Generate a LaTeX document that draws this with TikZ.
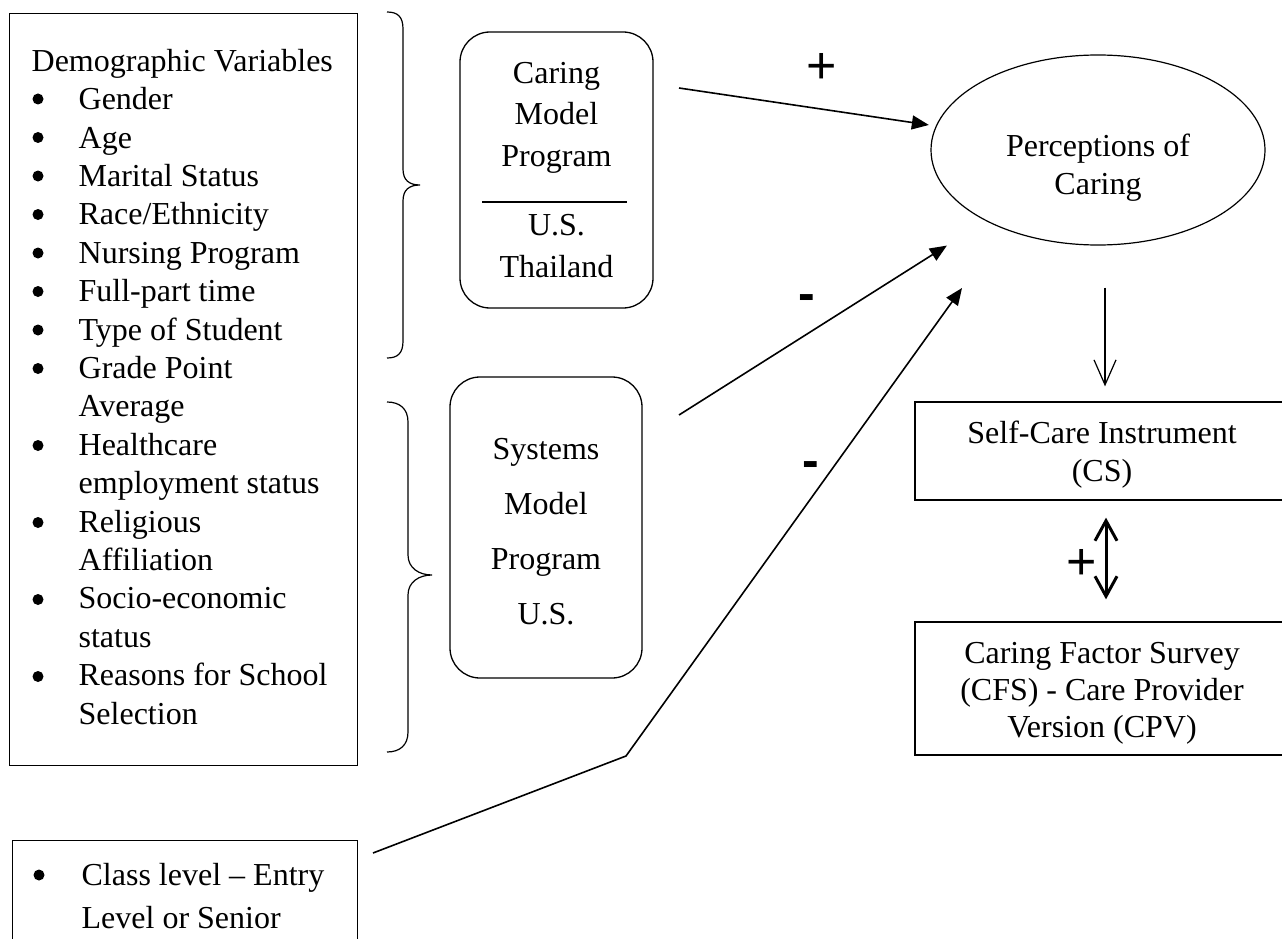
\documentclass[tikz,border=0pt]{standalone}
\usepackage{fontspec}
\setmainfont{Liberation Serif}
\newfontfamily\signfont{Liberation Sans}
\usetikzlibrary{arrows.meta,shapes.geometric}

\newcommand{\ind}[1]{\hspace*{47pt}#1}
\newcommand{\topstrut}{\rule{0pt}{30pt}}
\newcommand{\botstrut}{\rule[-6pt]{0pt}{1pt}}

\begin{document}
\begin{tikzpicture}[x=1pt,y=-1pt,
  box/.style={draw, line width=1.3pt},
  prog/.style={draw, line width=1.3pt, rounded corners=30pt, align=center},
  pointer/.style={line width=1.6pt, -{Triangle[length=17pt,width=14pt]}},
  thinarrow/.style={line width=1.2pt, -{Straight Barb[length=25pt,width=22pt]}},
  twoway/.style={line width=3pt, {Straight Barb[length=20pt,width=22pt]}-{Straight Barb[length=20pt,width=22pt]}},
  sign/.style={font=\signfont\fontsize{52}{52}\selectfont, inner sep=0pt},
  signbold/.style={font=\signfont\bfseries\fontsize{50}{50}\selectfont, inner sep=0pt}]

  \useasboundingbox (0,0) rectangle (1282,939);
  \clip (0,0) rectangle (1282,939);

  % variables on the left
  \node[box, anchor=north west, minimum width=348pt, minimum height=752pt,
        inner xsep=22pt, text width=304pt, align=flush left,
        font=\fontsize{32}{38.4}\selectfont] (demog) at (9,13)
  {\mbox{Demographic Variables}\\
   \ind{Gender}\\
   \ind{Age}\\
   \ind{Marital Status}\\
   \ind{Race/Ethnicity}\\
   \ind{Nursing Program}\\
   \ind{Full-part time}\\
   \ind{Type of Student}\\
   \ind{Grade Point}\\
   \ind{Average}\\
   \ind{Healthcare}\\
   \ind{employment status}\\
   \ind{Religious}\\
   \ind{Affiliation}\\
   \ind{Socio-economic}\\
   \ind{status}\\
   \ind{Reasons for School}\\
   \ind{Selection}\botstrut};
  % bullets
  \foreach \k in {0,...,7,9,11,13,15}
    \fill (38,99+38.5*\k) circle (5.5pt);

  \node[box, anchor=north west, minimum width=345pt, minimum height=110pt,
        inner xsep=22pt, text width=301pt, align=flush left,
        font=\fontsize{32}{43}\selectfont] (classlvl) at (12,840)
  {\ind{Class level – Entry}\\ \ind{Level or Senior}};
  \fill (39,875) circle (5.5pt);

  % braces
  \draw[line width=1.2pt] (387,12) .. controls (398,12) and (403,17) .. (403,29)
    -- (403,169) .. controls (403,180) and (409,185) .. (420,185)
    .. controls (409,185) and (403,190) .. (403,201)
    -- (403,341) .. controls (403,353) and (398,358) .. (387,358);
  \draw[line width=1.2pt] (387,402) .. controls (400,402) and (408,409) .. (408,422)
    -- (408,555) .. controls (408,568) and (419,575) .. (432,575)
    .. controls (419,575) and (408,582) .. (408,595)
    -- (408,732) .. controls (408,745) and (400,752) .. (387,752);

  % programs
  \node[prog, minimum width=193pt, minimum height=276pt,
        font=\fontsize{32}{41.5}\selectfont] (caring) at (556.5,170)
  {Caring\\Model\\Program\\[28pt]U.S.\\Thailand};
  \draw[line width=1.3pt] (482,202) -- (627,202);

  \node[prog, minimum width=192pt, minimum height=301pt,
        font=\fontsize{32}{55}\selectfont] (systems) at (546,527.5)
  {\topstrut Systems\\Model\\Program\\U.S.};

  % outcome side
  \node[draw, ellipse, line width=1.2pt, minimum width=334pt,
        minimum height=190pt, inner sep=0pt] (percep) at (1098,150) {};
  \node[align=center, font=\fontsize{32}{38}\selectfont] (perceptext) at (1098,168)
  {Perceptions of\\Caring};

  \node[box, minimum width=374pt, minimum height=98pt, align=center,
        font=\fontsize{32}{38}\selectfont] (selfcare) at (1102,451)
  {\topstrut Self-Care Instrument\\(CS)};
  \node[box, minimum width=374pt, minimum height=133pt, align=center,
        font=\fontsize{32}{37}\selectfont] (cfs) at (1102,688.5)
  {\topstrut Caring Factor Survey\\(CFS) - Care Provider\\Version (CPV)};

  % arrows
  \coordinate (caringout) at (679,88);
  \coordinate (systemsout) at (679,415);
  \coordinate (classout) at (373,853);
  \coordinate (kink) at (626,756);
  \coordinate (classin) at (962,288);

  \draw[pointer, shorten >=7pt] (caringout) -- (percep);
  \draw[pointer, shorten >=46pt] (systemsout) -- (percep);
  \draw[pointer] (classout) -- (kink) -- (classin);

  \draw[thinarrow, shorten <=42pt, shorten >=15pt]
    ([xshift=3pt]selfcare.north |- percep.south) -- ([xshift=3pt]selfcare.north);
  \draw[twoway, shorten <=17pt, shorten >=22pt]
    ([xshift=4pt]selfcare.south) -- ([xshift=4pt]cfs.north);

  % signs
  \node[sign] (plustop) at (822,68) {+};
  \node[signbold] (minustop) at (807,303) {-};
  \node[signbold] (minusmid) at (811,470) {-};
  \node[sign] (plusbot) at (1082,564) {+};

\end{tikzpicture}
\end{document}
